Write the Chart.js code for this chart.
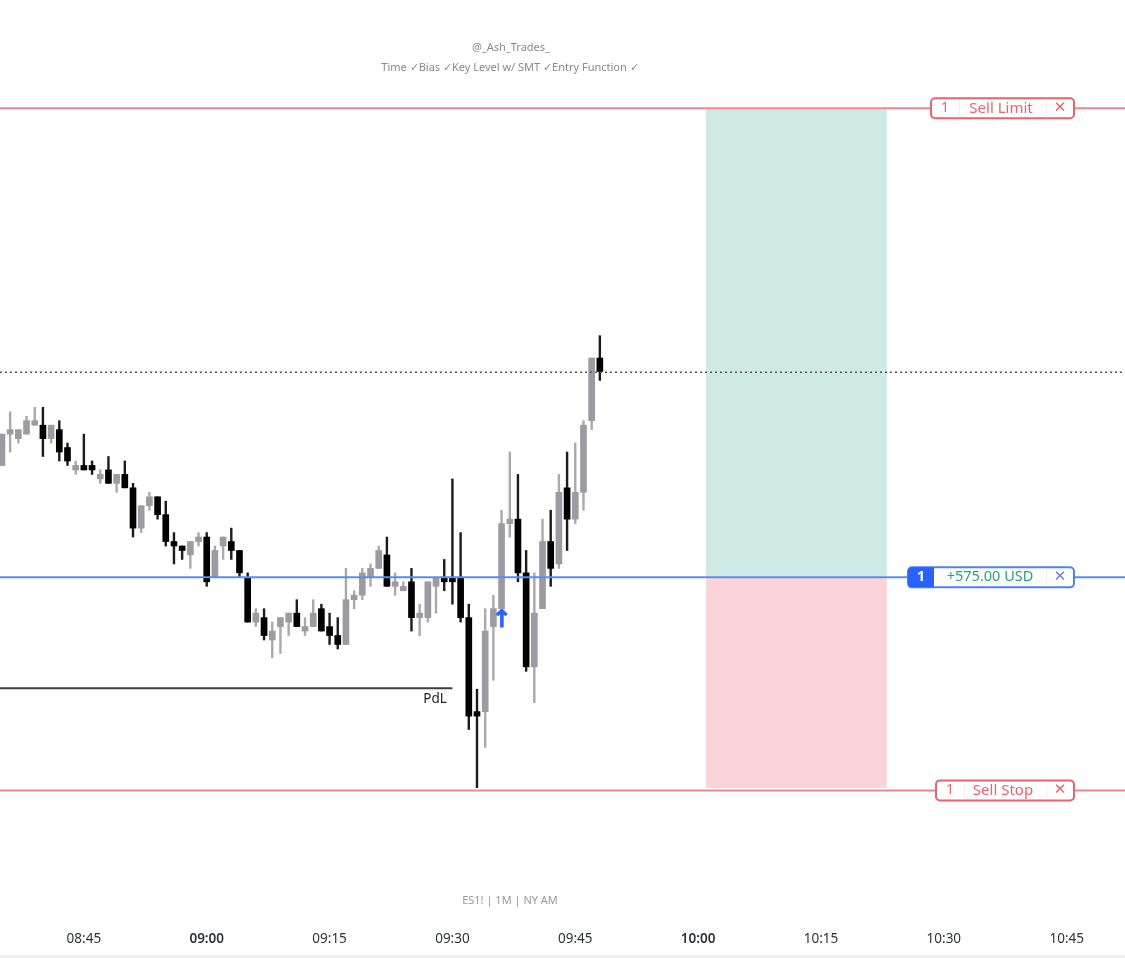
<!DOCTYPE html>
<html>
<head>
<meta charset="utf-8">
<style>
  html, body { margin: 0; padding: 0; background: #fff; overflow: hidden; }
  canvas { display: block; }
</style>
<script src="https://cdn.jsdelivr.net/npm/chart.js@4"></script>
</head>
<body>
<canvas id="chart" width="1125" height="958"></canvas>
<script>
// --- DATA (ES1! 1 min, one bar per minute from 08:35) ---
const firstBarMinute = 515;

const opens = [
  4506.25,4508,4507.75,4508,4508.5,4508.5,4507.75,4508.25,4507.25,4506,
  4506.25,4506.25,4505.5,4506,4505.25,4505.75,4505,4502.75,4504,4504.5,
  4503.5,4502,4501.75,4501.25,4502,4502.25,4500,4501.75,4502,4501.5,
  4500,4497.5,4497.75,4496.5,4497.25,4497.5,4498,4497,4497.25,4498.25,
  4497.25,4496.75,4496.25,4498.75,4499,4500,4500.5,4501.25,4499.5,4499.25,
  4499.75,4497.75,4497.75,4499.5,4500,4500,4500,4497.75,4492.5,4492.5,
  4497.25,4498.25,4503,4503.25,4500.25,4495,4498.25,4502,4500.75,4505,
  4503.25,4504.75,4508.75,4512.25
];
const highs = [
  4508,4509.25,4508.25,4509,4509.5,4509.5,4508.5,4508.75,4507.5,4506.5,
  4508,4506.5,4506,4506.75,4505.75,4506.5,4505.25,4504,4504.75,4504.5,
  4504.25,4502.5,4501.75,4502,4502.5,4502.5,4501.75,4502.25,4502.75,4501.5,
  4500.25,4498.25,4498.25,4497.5,4497.75,4498,4498.75,4497.75,4498.75,4498.5,
  4498,4497.75,4500.5,4499.25,4500.5,4500.75,4501.75,4502.25,4500.25,4499.75,
  4500.5,4498.5,4499.75,4500,4501,4505.5,4502.5,4498.5,4493.75,4498.25,
  4499,4503.75,4507,4505.75,4501.5,4500.25,4503.25,4503.75,4505.75,4507,
  4507.5,4508.75,4512.25,4513.5
];
const lows = [
  4506.25,4507,4507.5,4508,4508.5,4506.75,4507.5,4506.5,4506.25,4505.75,
  4506,4505.75,4505.25,4505.25,4504.75,4505,4502.25,4502.5,4503.75,4503.25,
  4501.75,4500.75,4501,4500.5,4501.75,4499.5,4500,4501,4501,4500,
  4497.5,4497.25,4496.5,4495.5,4495.75,4496.75,4497.25,4496.75,4497.25,4497,
  4496.25,4496,4496.25,4498.25,4498.75,4499.5,4500.5,4499.5,4499,4499.25,
  4497,4496.75,4497.5,4498,4499.25,4498.5,4497.5,4491.5,4488.25,4490.5,
  4494.25,4498.25,4502.25,4499.75,4494.75,4493,4498.25,4499.5,4500.5,4501.5,
  4503,4503.75,4508.25,4511
];
const closes = [
  4508,4508.25,4508.25,4508.75,4508.75,4507.75,4508.5,4507,4506.5,4506.25,
  4506,4506,4505.75,4505.25,4505.75,4505,4502.75,4504,4504.5,4503.5,
  4502,4501.75,4501.5,4502,4502.25,4499.75,4501.5,4502.25,4501.5,4500.25,
  4497.5,4498,4496.75,4497,4497.75,4498,4497.25,4497.25,4498,4497,
  4496.75,4496.25,4498.75,4499,4500.25,4500.5,4501.5,4499.5,4499.75,4499.5,
  4497.75,4498,4499.75,4500,4499.75,4499.75,4497.75,4492.25,4492.25,4497,
  4498.25,4503,4503.25,4500.25,4495,4498,4502,4500.5,4504.75,4503.25,
  4504.75,4508.5,4512.25,4511.5
];

const tickLabels = ['08:45','09:00','09:15','09:30','09:45','10:00','10:15','10:30','10:45'];

const sellLimitPrice = 4526.2;
const entryPrice = 4500;
const sellStopPrice = 4488.1;
const lastPrice = 4511.45;
const pdlPrice = 4493.8;
const boxBottomPrice = 4488.25;
const boxStartMinute = 601;
const boxEndMinute = 623;
const pdlEndMinute = 570;
const arrowMinute = 576;
const arrowPrice = 4497.6;

// --- SCALE WINDOW ---
const xMin = 514.76;
const xMax = 652.12;
const yMax = 4532.25;
const yMin = 4480.58;

const toMinutes = label => {
  const [h, m] = label.split(':').map(Number);
  return h * 60 + m;
};

const GRAY = '#9b9ba1';
const BLACK = '#000000';

const bodyData = opens.map((o, i) => ({ x: firstBarMinute + i, y: [o, closes[i]] }));
const wickData = lows.map((l, i) => ({ x: firstBarMinute + i, y: [l, highs[i]] }));
const isDown = i => closes[i] < opens[i];

const hLine = (price, x0, x1) => [{ x: x0, y: price }, { x: x1, y: price }];
const lineSet = (label, data, color, width, dash) => ({
  type: 'line', label, data, borderColor: color, borderWidth: width,
  borderDash: dash || [], pointRadius: 0, order: 2, parsing: true
});
const boxSet = (label, a, b, color) => ({
  type: 'bar', label, grouped: false, order: 5,
  data: [{ x: (boxStartMinute + boxEndMinute) / 2, y: [a, b] }],
  backgroundColor: color, barThickness: (boxEndMinute - boxStartMinute) * 8.19
});

// Order tags, free text and the footer strip
const annotations = {
  id: 'annotations',
  afterDatasetsDraw(chart) {
    const { ctx, scales: { x, y } } = chart;
    const FONT = '"Noto Sans", sans-serif';

    const text = (s, px, py, font, color, align) => {
      ctx.font = font;
      ctx.fillStyle = color;
      ctx.textAlign = align || 'center';
      ctx.textBaseline = 'middle';
      ctx.fillText(s, px, py);
    };

    const tag = (price, left, right, border) => {
      const py = y.getPixelForValue(price);
      ctx.beginPath();
      ctx.roundRect(left, py - 10, right - left, 20, 4);
      ctx.fillStyle = '#fff';
      ctx.fill();
      ctx.lineWidth = 2;
      ctx.strokeStyle = border;
      ctx.stroke();
      return py;
    };

    const divider = (px, py) => {
      ctx.fillStyle = '#f7eeef';
      ctx.fillRect(px, py - 9, 1, 18);
    };

    ctx.save();

    text('@_Ash_Trades_', 511, 48, '11px ' + FONT, '#8a8a8a');
    text('Time ✓Bias ✓Key Level w/ SMT ✓Entry Function ✓', 510, 68, '11px ' + FONT, '#8a8a8a');
    text('ES1! | 1M | NY AM', 510, 901, '11px ' + FONT, '#9a9a9a');

    text('PdL', 435, y.getPixelForValue(pdlPrice) + 11, '13.5px ' + FONT, '#222');

    // Entry arrow, thickened to the weight of the original glyph
    const arrowX = x.getPixelForValue(arrowMinute);
    const arrowY = y.getPixelForValue(arrowPrice);
    text('↑', arrowX, arrowY, 'bold 24px "DejaVu Sans"', '#2962ff');
    ctx.lineWidth = 0.8;
    ctx.strokeStyle = '#2962ff';
    ctx.strokeText('↑', arrowX, arrowY);

    const RED = '#f0606c';
    let py = tag(sellLimitPrice, 931, 1074, RED);
    divider(959, py); divider(1046, py);
    text('1', 945, py, '14px ' + FONT, RED);
    text('Sell Limit', 1001, py, '15px ' + FONT, RED);
    text('✕', 1060, py, '15px "DejaVu Sans"', RED);

    py = tag(sellStopPrice, 936, 1074, RED);
    divider(964, py); divider(1046, py);
    text('1', 950, py, '14px ' + FONT, RED);
    text('Sell Stop', 1003, py, '15px ' + FONT, RED);
    text('✕', 1060, py, '15px "DejaVu Sans"', RED);

    const BLUE = '#4f82f3';
    py = tag(entryPrice, 908, 1074, BLUE);
    ctx.beginPath();
    ctx.roundRect(908, py - 10, 26, 20, [4, 0, 0, 4]);
    ctx.fillStyle = '#2962ff';
    ctx.fill();
    text('1', 921, py, 'bold 14px ' + FONT, '#fff');
    text('+575.00 USD', 990, py, '14.5px ' + FONT, '#26a17b');
    divider(1046, py);
    text('✕', 1060, py, '15px "DejaVu Sans"', '#5f7fd8');

    // Footer strip below the time axis
    ctx.fillStyle = '#eff1f5';
    ctx.fillRect(0, 955, chart.width, 3);
    ctx.restore();
  }
};

new Chart(document.getElementById('chart'), {
  type: 'bar',
  data: {
    datasets: [
      {
        label: 'Bodies', data: bodyData, grouped: false, order: 3, barThickness: 6,
        backgroundColor: ctx => isDown(ctx.dataIndex) ? BLACK : GRAY
      },
      {
        label: 'Wicks', data: wickData, grouped: false, order: 4, barThickness: 1.75,
        backgroundColor: ctx => isDown(ctx.dataIndex) ? '#1c1c1c' : '#a9a9ae'
      },
      boxSet('Target', entryPrice, sellLimitPrice, '#cfeae4'),
      boxSet('Stop', boxBottomPrice, entryPrice, '#fad4d8'),
      lineSet('Sell Limit', hLine(sellLimitPrice, xMin, xMax), '#f4858f', 2),
      lineSet('Sell Stop', hLine(sellStopPrice, xMin, xMax), '#f4858f', 2),
      lineSet('Entry', hLine(entryPrice, xMin, xMax), '#5b8cf5', 2),
      lineSet('Last', hLine(lastPrice, xMin, xMax), '#555', 1.5, [2, 3]),
      lineSet('PdL', hLine(pdlPrice, xMin, pdlEndMinute), '#3d3d4a', 2)
    ]
  },
  options: {
    responsive: false,
    animation: false,
    layout: { padding: 0 },
    plugins: { legend: { display: false }, tooltip: { enabled: false } },
    scales: {
      x: {
        type: 'linear',
        min: xMin,
        max: xMax,
        offset: false,
        grid: { display: false, drawTicks: false },
        border: { display: false },
        afterBuildTicks: scale => { scale.ticks = tickLabels.map(l => ({ value: toMinutes(l) })); },
        afterFit: scale => { scale.height = 33; },
        ticks: {
          autoSkip: false,
          maxRotation: 0,
          padding: 6,
          color: '#2f323c',
          font: ctx => ({
            family: '"Noto Sans", sans-serif',
            size: 13.5,
            weight: ctx.tick && ctx.tick.value % 60 === 0 ? 600 : 400
          }),
          callback: value => tickLabels.find(l => toMinutes(l) === value) || ''
        }
      },
      y: {
        type: 'linear',
        min: yMin,
        max: yMax,
        display: false
      }
    }
  },
  plugins: [annotations]
});
</script>
</body>
</html>
